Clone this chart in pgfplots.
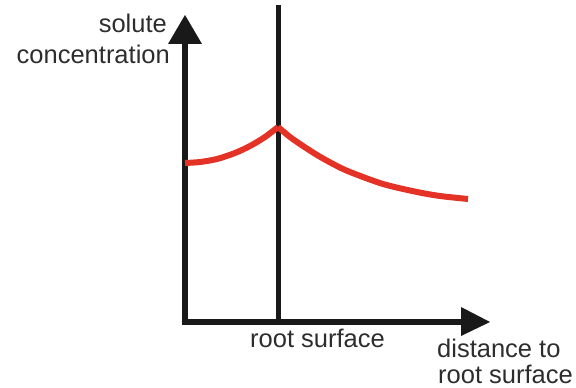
\documentclass[border=0pt]{standalone}
\usepackage{pgfplots}
\pgfplotsset{compat=1.18}
\usepackage{fontspec}
\setmainfont{Liberation Sans}
\definecolor{curvered}{RGB}{228,50,38}
\definecolor{txt}{RGB}{45,45,45}
\begin{document}
\begin{tikzpicture}
\begin{axis}[
  scale only axis, width=576bp, height=388bp,
  xmin=0, xmax=576, ymin=0, ymax=388,
  hide axis, clip=false,
]
\path (axis cs:0,0) rectangle (axis cs:576,388);
% axes
\draw[line width=5.5bp, line cap=rect, black!90] (axis cs:185,345) -- (axis cs:185,66) -- (axis cs:462,66);
\fill[black!90] (axis cs:185,373) -- (axis cs:168,344) -- (axis cs:202,344) -- cycle;
\fill[black!90] (axis cs:490,66) -- (axis cs:461,81) -- (axis cs:461,52) -- cycle;
% root surface line
\addplot[line width=5bp, black!90] coordinates {(278,66) (278,383)};
% curve
\addplot[line width=6bp, curvered, smooth, tension=0.5] coordinates {
(185,225) (200,226) (217,229) (235,235) (250,242) (265,251) (278,261)};
\addplot[line width=6bp, curvered, smooth, tension=0.5] coordinates {
(278,261) (290,251) (300,244) (317,233) (335,223) (350,216) (383,204) (417,196) (440,192) (468,189)};
% labels
\node[anchor=base east, text=txt, font=\fontsize{25.5bp}{30bp}\selectfont, inner sep=0pt] at (axis cs:167,355) {solute};
\node[anchor=base east, text=txt, font=\fontsize{25.5bp}{30bp}\selectfont, inner sep=0pt] at (axis cs:170,324) {concentration};
\node[anchor=base west, text=txt, font=\fontsize{25.5bp}{30bp}\selectfont, inner sep=0pt] at (axis cs:250,40) {root surface};
\node[anchor=base west, text=txt, font=\fontsize{25.5bp}{30bp}\selectfont, inner sep=0pt] at (axis cs:437,31) {distance to};
\node[anchor=base west, text=txt, font=\fontsize{25.5bp}{30bp}\selectfont, inner sep=0pt] at (axis cs:438,5) {root surface};
\end{axis}
\end{tikzpicture}
\end{document}
